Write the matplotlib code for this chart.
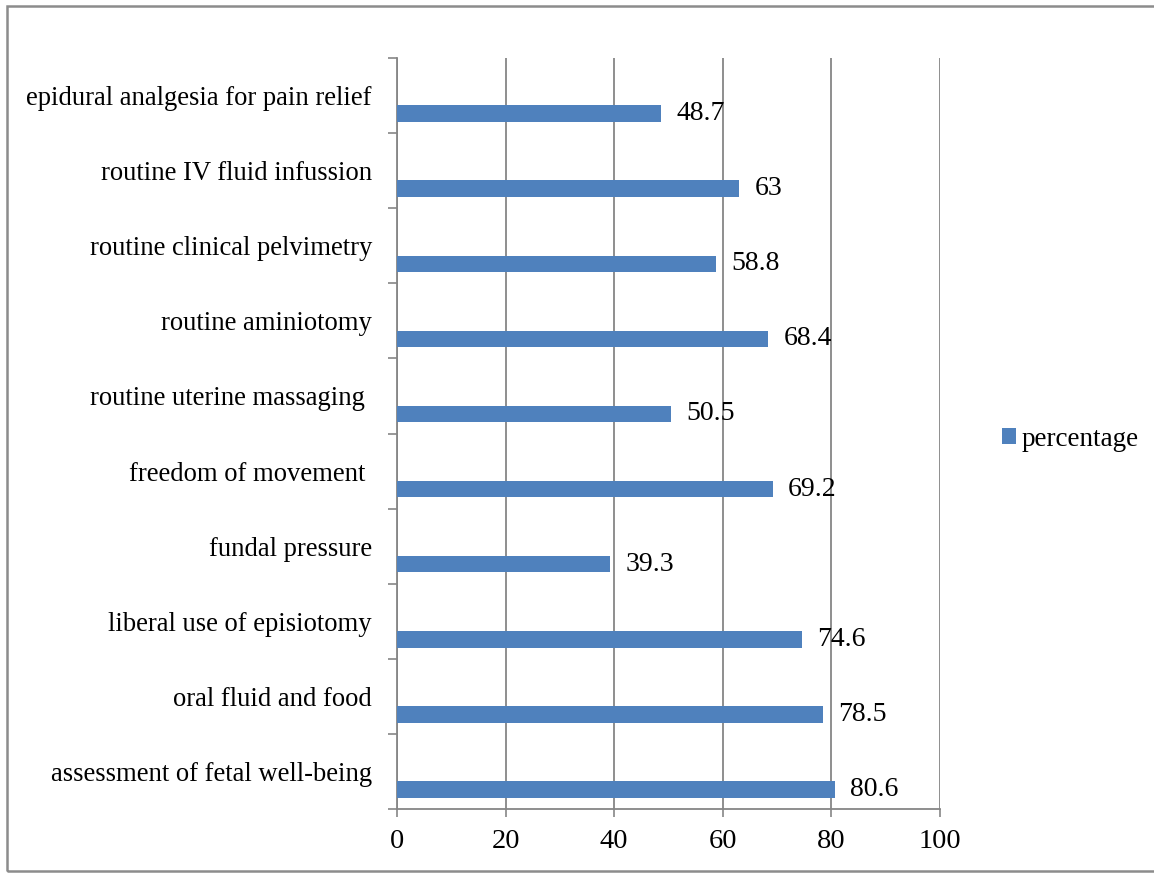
import matplotlib
matplotlib.use("Agg")
import matplotlib.pyplot as plt
from matplotlib.patches import Rectangle, Patch
import numpy as np

categories = [
    "assessment of fetal well-being",
    "oral fluid and food",
    "liberal use of episiotomy",
    "fundal pressure",
    "freedom of movement ",
    "routine uterine massaging ",
    "routine aminiotomy",
    "routine clinical pelvimetry",
    "routine IV fluid infussion",
    "epidural analgesia for pain relief",
]
percentage = [80.6, 78.5, 74.6, 39.3, 69.2, 50.5, 68.4, 58.8, 63, 48.7]
value_labels = ["80.6", "78.5", "74.6", "39.3", "69.2", "50.5", "68.4", "58.8", "63", "48.7"]
x_ticks = [0, 20, 40, 60, 80, 100]

plt.rcParams["font.family"] = ["Liberation Serif", "DejaVu Serif"]

W, H = 1154, 873
fig = plt.figure(figsize=(W / 100, H / 100), dpi=100)
fig.patch.set_facecolor("white")

# outer frame (right edge runs past the canvas)
fig.patches.append(Rectangle((7 / W, 2 / H), (W + 10) / W, (H - 8) / H,
                             transform=fig.transFigure, fill=False,
                             edgecolor="#8c8c8c", linewidth=1.8))

ax = fig.add_axes([397 / W, (H - 809) / H, (940 - 397) / W, (809 - 58) / H])

bar_color = "#4F81BD"
grid_color = "#868686"
n = len(categories)
pos = np.arange(n)
offset = -0.24
ax.barh(pos + offset, percentage, height=0.22, color=bar_color, zorder=3)

for p, v, lab in zip(pos, percentage, value_labels):
    ax.annotate(lab, xy=(v, p + offset), xytext=(11, 0), textcoords="offset points",
                ha="left", va="center", fontsize=20, color="black")

ax.set_xlim(0, 100)
ax.set_ylim(-0.5, n - 0.5)
ax.set_xticks(x_ticks)
ax.set_xticklabels([str(t) for t in x_ticks], fontsize=20.5)
ax.set_yticks(pos)
ax.set_yticklabels(categories, fontsize=19.2)
ax.set_yticks(np.arange(n + 1) - 0.5, minor=True)

ax.tick_params(axis="y", which="major", length=0, pad=18)
ax.tick_params(axis="y", which="minor", length=6.5, width=1.2, color=grid_color, direction="out")
ax.tick_params(axis="x", which="major", length=6, width=1.2, color=grid_color, direction="out", pad=8.5)

ax.xaxis.grid(True, color=grid_color, linewidth=1.3, zorder=0)
ax.set_axisbelow(True)
for s in ["top", "right"]:
    ax.spines[s].set_visible(False)
for s in ["left", "bottom"]:
    ax.spines[s].set_color(grid_color)
    ax.spines[s].set_linewidth(1.3)

handle = Patch(facecolor=bar_color, edgecolor="none")
fig.legend([handle], ["percentage"], loc="center left",
           bbox_to_anchor=(1002 / W, 1 - 439 / H), frameon=False, fontsize=19.5,
           handlelength=0.5, handleheight=0.5, handletextpad=0.22,
           borderpad=0, borderaxespad=0)

fig.savefig("out.png", dpi=100, facecolor="white")
